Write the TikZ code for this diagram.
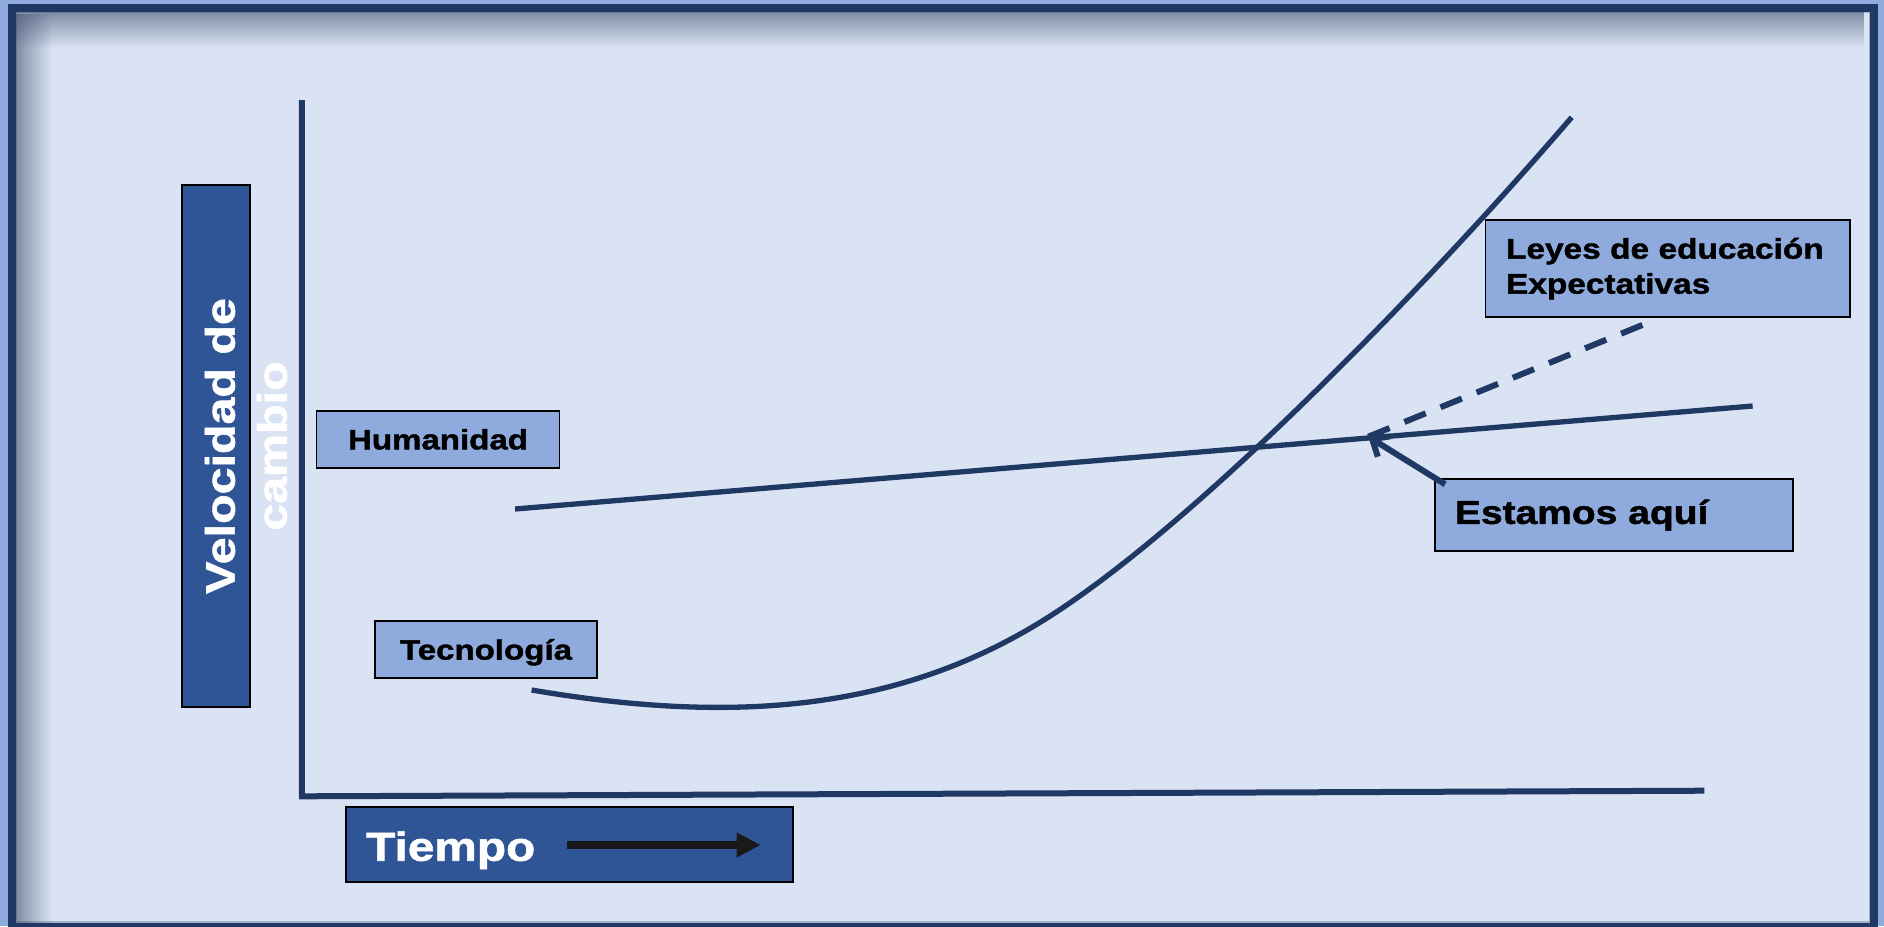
\documentclass[tikz,border=0pt]{standalone}
\usepackage{fontspec}
\setmainfont{Liberation Sans}[FakeStretch=1.18,BoldFeatures={FakeBold=1.5}]
\usepackage{tikz}
\usetikzlibrary{arrows.meta,fadings}

\definecolor{bandblue}{HTML}{8FAADC}
\definecolor{paleblue}{HTML}{DAE3F3}
\definecolor{navy}{HTML}{203864}
\definecolor{boxblue}{HTML}{2F5597}
\definecolor{lightblue}{HTML}{8FAADC}
\definecolor{shadowblue}{HTML}{3A4A6A}
\definecolor{edgegray}{HTML}{A3B0C8}
\definecolor{arrowblack}{HTML}{191919}

\tikzfading[name=fadedown, top color=transparent!0, bottom color=transparent!100]
\tikzfading[name=faderight, left color=transparent!0, right color=transparent!100]

\begin{document}
\begin{tikzpicture}
[x=1pt,y=-1pt,>=stealth,
 lbox/.style={draw=black,line width=1.8pt,fill=lightblue,inner sep=0pt},
 dbox/.style={draw=black,line width=1.8pt,fill=boxblue,inner sep=0pt},
 curve/.style={draw=navy,line width=5.3pt},]

%Frame and background
\useasboundingbox (0,0) rectangle (1884,926);
\fill[bandblue] (0,0) rectangle (1884,926);
\fill[paleblue] (12,8) rectangle (1874,927);
\draw[edgegray,line width=1.3pt] (16.6,12.6) rectangle (1869.9,922.1);
\fill[shadowblue,fill opacity=0.56,path fading=fadedown] (16,12) rectangle (1870,48);
\fill[shadowblue,fill opacity=0.56,path fading=faderight] (16,12) rectangle (52,923);
\draw[navy,line width=8pt] (12,8) rectangle (1874,926.7);

%Axis titles
\node (vbox) at (215.9,445.9)[dbox,minimum width=68pt,minimum height=521.7pt] {};
\node (vtext) at (246,446)[rotate=90,align=center,text=white,font=\fontsize{41}{52}\selectfont\bfseries] {Velocidad de\\cambio};
\node (tbox) at (569.4,844.5)[dbox,minimum width=447.3pt,minimum height=74.4pt] {};
\node (ttext) at (366,860.7)[anchor=base west,inner sep=0pt,text=white,font=\fontsize{40.5}{48}\selectfont\bfseries] {Tiempo};
\coordinate (tA) at (567.3,845);
\coordinate (tB) at (760.7,845);
\draw[arrowblack,line width=8.7pt,-{Triangle[length=24pt,width=23.3pt]}] (tA) -- (tB);

%Drawing axes
\coordinate (ytop) at (301.8,100);
\coordinate (O) at (301.8,796.3);
\coordinate (xend) at (1704.3,790.7);
\draw[navy,line width=6pt] (ytop) -- (O) -- (xend);

%Humanidad line
\coordinate (h0) at (515,509);
\coordinate (h1) at (1752.6,406);
\draw[curve] (h0) -- (h1);

%Tecnologia curve
\coordinate (t0) at (531.6,690);
\coordinate (t1) at (1035.7,625);
\coordinate (t2) at (1571.7,117.3);
\draw[curve] (t0) .. controls (720,722) and (885.7,715) .. (t1)
                  .. controls (1185.7,535) and (1421.7,291.6) .. (t2);

%Labeling boxes
\node (human) at (438,439.2)[lbox,minimum width=243pt,minimum height=57pt,text depth=0pt,font=\fontsize{28}{34}\selectfont\bfseries] {Humanidad};
\node (tecno) at (486,649.3)[lbox,minimum width=221.4pt,minimum height=57.3pt,text depth=0pt,font=\fontsize{28}{34}\selectfont\bfseries] {Tecnología};
\node (leyes) at (1667.8,268.7)[lbox,minimum width=364.5pt,minimum height=97pt,text width=323.5pt,inner xsep=20.5pt,align=left,font=\fontsize{28.3}{35}\selectfont\bfseries] {Leyes de educación\\Expectativas};
\node (estamos) at (1613.8,515.2)[lbox,minimum width=357.6pt,minimum height=72pt,text width=317.6pt,inner xsep=20pt,align=left,font=\fontsize{33}{40}\selectfont\bfseries] {Estamos aquí};

%Pointers
\coordinate (here) at (1368.3,436.7);
\coordinate (expect) at (1646.5,323.3);
\draw[navy,line width=6pt,dash pattern=on 23pt off 16pt] (here) -- (expect);
\draw[navy,line width=6pt,-{Straight Barb[length=14pt,width=24pt]}] ([xshift=11pt,yshift=-6pt]estamos.north west) -- (here);

\end{tikzpicture}
\end{document}
